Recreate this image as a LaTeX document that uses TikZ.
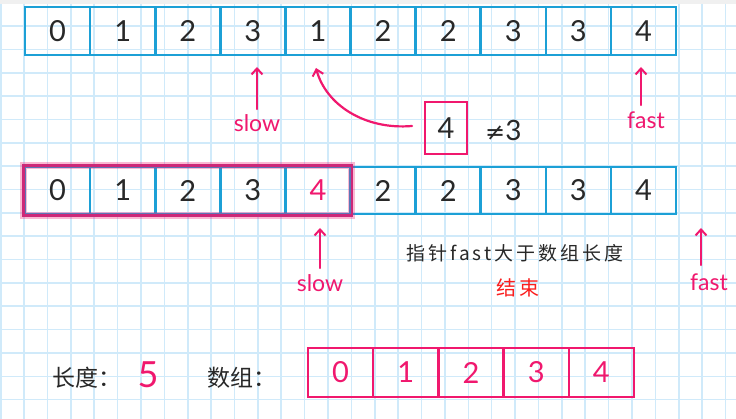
\documentclass[tikz,border=0pt]{standalone}
\usepackage{fontspec}
\setmainfont{Lato}
\newfontfamily\cjk[LetterSpace=16]{Noto Sans CJK SC}
\newfontfamily\cjkn{Noto Sans CJK SC}
\newfontfamily\dv{DejaVu Sans}
\usetikzlibrary{arrows.meta}
\definecolor{gridc}{RGB}{208,234,250}
\definecolor{cellb}{RGB}{28,160,214}
\definecolor{pinkc}{RGB}{240,24,110}
\definecolor{pinkd}{RGB}{205,40,120}
\definecolor{redc}{RGB}{250,30,30}
\definecolor{inkc}{RGB}{40,40,40}
\tikzset{
  cell/.style={draw=cellb, line width=2.6pt, minimum width=65.1pt, minimum height=48pt,
    inner sep=0pt, font=\fontsize{29}{29}\selectfont, text=inkc},
  pcell/.style={cell, draw=pinkc, text=pinkc, minimum width=65.2pt, minimum height=49pt, line width=2.4pt},
  ptr/.style={pinkc, line width=2.2pt, line cap=round,
    -{Straight Barb[length=6pt,width=11pt,line width=2pt]}},
  ptrlabel/.style={text=pinkc, font=\fontsize{23}{23}\selectfont, inner sep=0pt, anchor=north},
  gridline/.style={gridc, line width=1.6pt},
}
\begin{document}
\begin{tikzpicture}[x=1pt,y=-1pt]
\useasboundingbox (0,0) rectangle (736,419);
\fill[white] (0,0) rectangle (736,419);
\fill[black!6] (0,0) rectangle (736,4);
% grid
\foreach \k in {0,...,31} \draw[gridline] ({0.7+23.38*\k},4) -- ({0.7+23.38*\k},419);
\foreach \k in {1,...,17} \draw[gridline] (0,{2.7+23.35*\k}) -- (736,{2.7+23.35*\k});

% row 1
\foreach \v [count=\i from 0] in {0,1,2,3,1,2,2,3,3,4}
  \node[cell] (t\i) at ({57.6+65.1*\i},31) {\v};

% row 2
\foreach \v [count=\i from 0] in {0,1,2,3,{\textcolor{pinkc}{4}},2,2,3,3,4}
  \node[cell, minimum height=47pt] (m\i) at ({57.6+65.1*\i},190.5) {\v};
\draw[pinkc, opacity=0.3, line width=7pt] (m0.north west) rectangle (m4.south east);
\draw[pinkd, line width=2.6pt] (m0.north west) rectangle (m4.south east);

% compare box
\node[draw=pinkc, line width=2pt, minimum width=42pt, minimum height=52pt, inner sep=0pt,
  font=\fontsize{29}{29}\selectfont, text=inkc] (box4) at (446,128) {4};
\node[text=inkc, font=\fontsize{28}{28}\selectfont, anchor=west, inner sep=0pt] (neq) at (485,130) {{\dv\fontsize{24}{24}\selectfont ≠}3};
\coordinate (t4tip) at (316,68);
\draw[ptr] ([xshift=-12pt,yshift=2pt]box4.west) .. controls (365,130) and (326,105) .. (t4tip);

% pointers row 1
\node[ptrlabel] (slow1) at (257,114) {slow};
\coordinate (slow1tip) at (257,67);
\draw[ptr] ([yshift=5pt]slow1.north) -- (slow1tip);
\node[ptrlabel] (fast1) at (646,112) {fast};
\coordinate (fast1tip) at (641,67);
\draw[ptr] ([xshift=-5pt,yshift=7pt]fast1.north) -- (fast1tip);

% pointers row 2
\node[ptrlabel] (slow2) at (320,274) {slow};
\coordinate (slow2tip) at (320,228);
\draw[ptr] ([yshift=6pt]slow2.north) -- (slow2tip);
\node[ptrlabel] (fast2) at (709,274) {fast};
\coordinate (fast2tip) at (701,228);
\draw[ptr] ([xshift=-8pt,yshift=9pt]fast2.north) -- (fast2tip);

% messages
\node[text=inkc, font=\cjk\fontsize{19}{19}\selectfont, inner sep=0pt] (msg) at (515,253) {指针fast大于数组长度};
\node[text=redc, font=\cjk\fontsize{20}{20}\selectfont, inner sep=0pt] (endmsg) at (518,288) {结束};

% bottom
\node[text=inkc, font=\cjkn\fontsize{23}{23}\selectfont, inner sep=0pt, anchor=west] (lenlab) at (52,378) {长度：};
\node[text=pinkc, font=\fontsize{36}{36}\selectfont, inner sep=0pt] (lenval) at (148,375) {5};
\node[text=inkc, font=\cjkn\fontsize{23}{23}\selectfont, inner sep=0pt, anchor=west] (arrlab) at (207,378) {数组：};
\foreach \v [count=\i from 0] in {0,1,2,3,4}
  \node[pcell] (b\i) at ({340.6+65.2*\i},372.5) {\v};
\end{tikzpicture}
\end{document}
